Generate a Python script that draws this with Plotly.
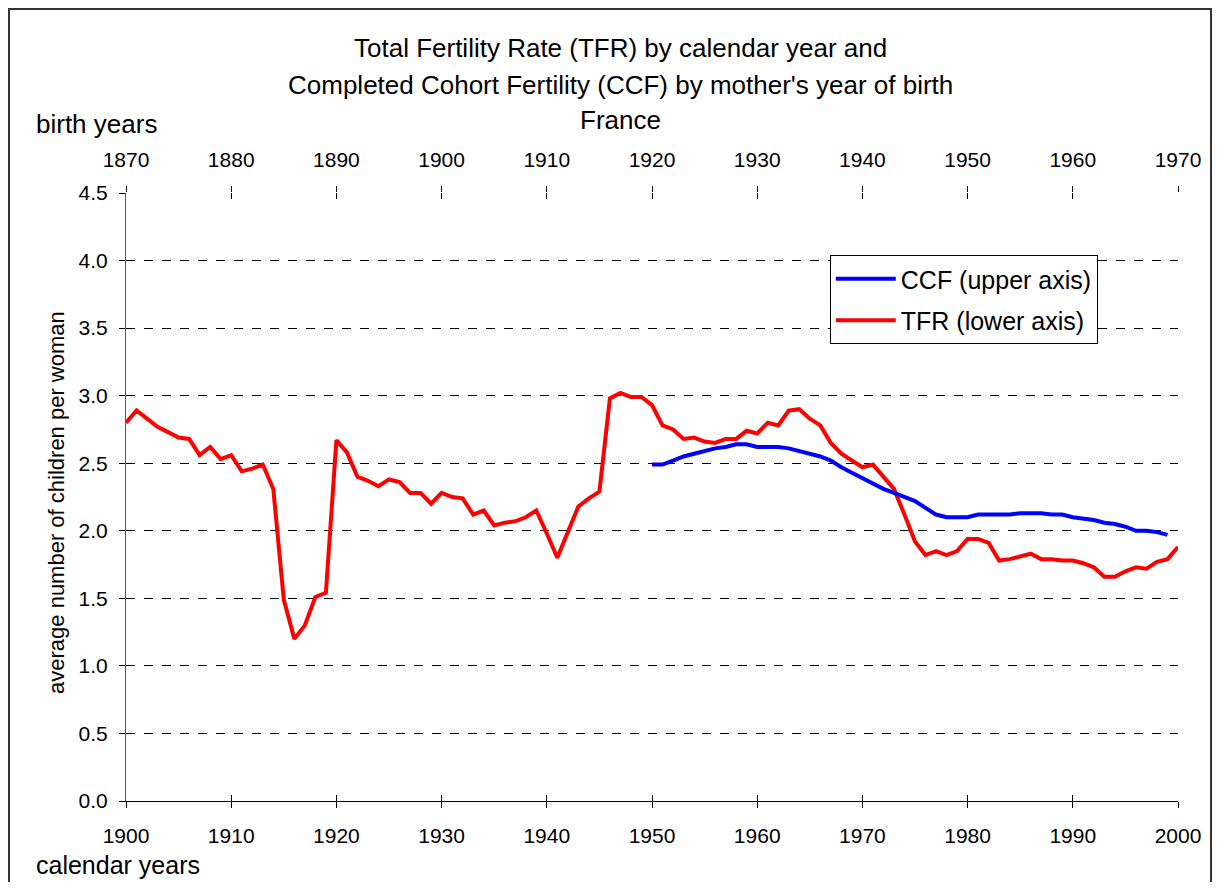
import plotly.graph_objects as go

# ---- data ----
tfr_years = list(range(1900, 2001))
tfr_values = [
    2.80, 2.89, 2.83, 2.77, 2.73, 2.69, 2.68, 2.56, 2.62, 2.53,
    2.56, 2.44, 2.46, 2.49, 2.31, 1.49, 1.20, 1.30, 1.51, 1.54,
    2.67, 2.58, 2.40, 2.37, 2.33, 2.38, 2.36, 2.28, 2.28, 2.20,
    2.28, 2.25, 2.24, 2.12, 2.15, 2.04, 2.06, 2.07, 2.10, 2.15,
    1.98, 1.80, 1.99, 2.18, 2.24, 2.29, 2.98, 3.02, 2.99, 2.99,
    2.93, 2.78, 2.75, 2.68, 2.69, 2.66, 2.65, 2.68, 2.68, 2.74,
    2.72, 2.80, 2.78, 2.89, 2.90, 2.83, 2.78, 2.65, 2.57, 2.52,
    2.47, 2.49, 2.40, 2.31, 2.12, 1.92, 1.82, 1.85, 1.82, 1.85,
    1.94, 1.94, 1.91, 1.78, 1.79, 1.81, 1.83, 1.79, 1.79, 1.78,
    1.78, 1.76, 1.73, 1.66, 1.66, 1.70, 1.73, 1.72, 1.77, 1.79,
    1.88,
]

ccf_years = list(range(1920, 1970))
ccf_values = [
    2.49, 2.49, 2.52, 2.55, 2.57, 2.59, 2.61, 2.62, 2.64, 2.64,
    2.62, 2.62, 2.62, 2.61, 2.59, 2.57, 2.55, 2.52, 2.47, 2.43,
    2.39, 2.35, 2.31, 2.28, 2.25, 2.22, 2.17, 2.12, 2.10, 2.10,
    2.10, 2.12, 2.12, 2.12, 2.12, 2.13, 2.13, 2.13, 2.12, 2.12,
    2.10, 2.09, 2.08, 2.06, 2.05, 2.03, 2.00, 2.00, 1.99, 1.97,
]

lower_ticks = list(range(1900, 2001, 10))
upper_ticks = list(range(1870, 1971, 10))
y_ticks = [0.0, 0.5, 1.0, 1.5, 2.0, 2.5, 3.0, 3.5, 4.0, 4.5]

title_lines = [
    "Total Fertility Rate (TFR) by calendar year and",
    "Completed Cohort Fertility (CCF) by mother's year of birth",
    "France",
]

FONT = "Liberation Sans, Arial, sans-serif"
BIG = 26

fig = go.Figure()
fig.add_trace(go.Scatter(
    x=ccf_years, y=ccf_values, mode="lines", name="CCF (upper axis)",
    line=dict(color="#0000FF", width=4), xaxis="x2", yaxis="y",
    legendgroup="ccf",
))
fig.add_trace(go.Scatter(
    x=tfr_years, y=tfr_values, mode="lines", name="TFR (lower axis)",
    line=dict(color="#FF0000", width=4), xaxis="x", yaxis="y",
    legendgroup="tfr",
))
# empty helper traces for inner tick marks
fig.add_trace(go.Scatter(x=[], y=[], xaxis="x3", yaxis="y", showlegend=False, hoverinfo="skip"))
fig.add_trace(go.Scatter(x=[], y=[], xaxis="x4", yaxis="y", showlegend=False, hoverinfo="skip"))
fig.add_trace(go.Scatter(x=[], y=[], xaxis="x", yaxis="y2", showlegend=False, hoverinfo="skip"))

tickfont = dict(family=FONT, size=21, color="black")

fig.update_layout(
    width=1205, height=874,
    margin=dict(l=118, r=35, t=185, b=81),
    paper_bgcolor="white", plot_bgcolor="white",
    font=dict(family=FONT, color="black"),
    showlegend=True,
    legend=dict(
        x=0.669, y=0.898, xanchor="left", yanchor="top",
        bgcolor="white", bordercolor="black", borderwidth=1,
        font=dict(family=FONT, size=25, color="black"),
        tracegroupgap=6, itemwidth=60,
    ),
    xaxis=dict(
        range=[1900, 2000], tickvals=lower_ticks, ticktext=[str(t) for t in lower_ticks],
        ticks="outside", ticklen=6, tickcolor="black", tickwidth=1,
        showline=True, linecolor="black", linewidth=1,
        showgrid=False, zeroline=False, tickfont=tickfont, side="bottom",
        anchor="y", ticklabelstandoff=10,
    ),
    xaxis2=dict(
        range=[1870, 1970], tickvals=upper_ticks, ticktext=[str(t) for t in upper_ticks],
        ticks="outside", ticklen=6, tickcolor="black", tickwidth=1,
        showline=False, showgrid=False, zeroline=False, tickfont=tickfont,
        side="top", overlaying="x", anchor="y", ticklabelstandoff=11,
    ),
    xaxis3=dict(
        range=[1900, 2000], tickvals=lower_ticks, ticks="inside", ticklen=6,
        tickcolor="black", showticklabels=False, showgrid=False, zeroline=False,
        showline=False, overlaying="x", anchor="y", side="bottom",
    ),
    xaxis4=dict(
        range=[1870, 1970], tickvals=upper_ticks, ticks="inside", ticklen=6,
        tickcolor="black", showticklabels=False, showgrid=False, zeroline=False,
        showline=False, overlaying="x", anchor="y", side="top",
    ),
    yaxis=dict(
        range=[0, 4.5], tickvals=y_ticks, ticktext=[f"{v:.1f}" for v in y_ticks],
        ticks="outside", ticklen=6, tickcolor="black", tickwidth=1,
        showline=True, linecolor="#555555", linewidth=1,
        showgrid=True, gridcolor="black", gridwidth=1, griddash="9px,9px",
        zeroline=False, tickfont=tickfont, anchor="x", ticklabelstandoff=7,
    ),
    yaxis2=dict(
        range=[0, 4.5], tickvals=y_ticks, ticks="inside", ticklen=6,
        tickcolor="black", showticklabels=False, showgrid=False, zeroline=False,
        showline=False, overlaying="y", anchor="x", side="left",
    ),
)

# title lines
title_y = [1.2385, 1.1776, 1.1201]
for txt, ty in zip(title_lines, title_y):
    fig.add_annotation(
        text=txt, xref="paper", yref="paper", x=0.4705, y=ty,
        xanchor="center", yanchor="middle", showarrow=False,
        font=dict(family=FONT, size=BIG, color="black"),
    )

fig.add_annotation(
    text="birth years", xref="paper", yref="paper", x=-0.0875, y=1.1135,
    xanchor="left", yanchor="middle", showarrow=False,
    font=dict(family=FONT, size=BIG, color="black"),
)
fig.add_annotation(
    text="calendar years", xref="paper", yref="paper", x=-0.0875, y=-0.1055,
    xanchor="left", yanchor="middle", showarrow=False,
    font=dict(family=FONT, size=25, color="black"),
)
fig.add_annotation(
    text="average number of children per woman", xref="paper", yref="paper",
    x=-0.0656, y=0.4918, xanchor="center", yanchor="middle", textangle=-90,
    showarrow=False, font=dict(family=FONT, size=22, color="black"),
)

# outer chart frame
fig.add_shape(
    type="rect", xref="paper", yref="paper",
    x0=-0.1112, x1=1.0314, y0=-0.25, y1=1.3026,
    line=dict(color="#333333", width=2), fillcolor="rgba(0,0,0,0)", layer="above",
)

fig.write_html("out.html")
